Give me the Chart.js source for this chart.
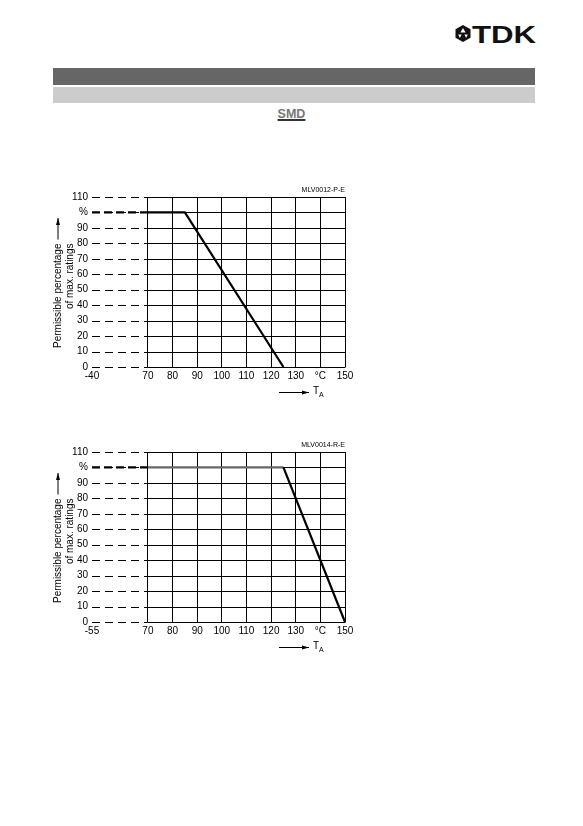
<!DOCTYPE html>
<html>
<head>
<meta charset="utf-8">
<script src="https://cdn.jsdelivr.net/npm/chart.js@4.4.1/dist/chart.umd.min.js"></script>
<style>
  body { margin: 0; background: #fff; font-family: "Liberation Sans", Arial, sans-serif; }
  #page { position: relative; width: 583px; height: 826px; overflow: hidden; }
  .bar1 { position: absolute; left: 53px; top: 68px; width: 482px; height: 17px; background: #666; }
  .bar2 { position: absolute; left: 53px; top: 87px; width: 482px; height: 16px; background: #ccc; }
  .smd { position: absolute; left: 0; width: 583px; top: 107px; text-align: center; font-weight: bold; font-size: 12.5px;
         color: #777; text-decoration: underline; text-decoration-color: #333; text-decoration-thickness: 2px; text-underline-offset: 1px; }
  .logo { position: absolute; left: 455px; top: 25px; height: 18px; }
  .logo svg { position: absolute; left: 0; top: 0; }
  .logo span { position: absolute; left: 17px; top: -4px; font-weight: bold; font-size: 24px; color: #111;
               transform: scaleX(1.3); transform-origin: left top; white-space: nowrap; }
  canvas { position: absolute; left: 40px; }
</style>
</head>
<body>
<div id="page">
  <div class="logo">
    <svg width="16" height="17" viewBox="0 0 16 17">
      <polygon points="8,0 15.5,4.2 15.5,12.8 8,17 0.5,12.8 0.5,4.2" fill="#111"/>
      <polygon points="8,3 10.6,7.6 5.4,7.6" fill="#fff"/>
      <polygon points="3.2,9.4 6.6,9.4 4.9,13" fill="#fff"/>
      <polygon points="9.4,9.4 12.8,9.4 11.1,13" fill="#fff"/>
    </svg>
    <span>TDK</span>
  </div>
  <div class="bar1"></div>
  <div class="bar2"></div>
  <div class="smd">SMD</div>
  <canvas id="chart1" width="320" height="230" style="top:180px"></canvas>
  <canvas id="chart2" width="320" height="230" style="top:435px"></canvas>
</div>
<script>
// derating curves
const tempC1 = [-40, 70, 85, 125];
const pct1 = [100, 100, 100, 0];
const tempC2 = [-55, 70, 125, 150];
const pct2 = [100, 100, 100, 0];

const xTicks1 = [-40, 70, 80, 90, 100, 110, 120, 130, 140, 150];
const xTicks2 = [-55, 70, 80, 90, 100, 110, 120, 130, 140, 150];
const yTicks = [0, 10, 20, 30, 40, 50, 60, 70, 80, 90, 100, 110];

const BREAK_AT = 70;

// linear axis with the span min..BREAK_AT squeezed together
class BreakScale extends Chart.LinearScale {
    squash(v) {
        const a = this.min, b = this.options.breakAt, w = this.options.breakSpan;
        return v >= b ? v : b - (b - v) / (b - a) * w;
    }
    getPixelForValue(v) {
        if (v == null || isNaN(v)) return NaN;
        const lo = this.squash(this.min), hi = this.squash(this.max);
        return this.getPixelForDecimal((this.squash(v) - lo) / (hi - lo));
    }
}
BreakScale.id = 'breaklinear';
BreakScale.defaults = Chart.LinearScale.defaults;
Chart.register(BreakScale);

Chart.defaults.font.family = '"Liberation Sans", Arial, sans-serif';
Chart.defaults.font.size = 10;
Chart.defaults.color = '#000';

// horizontal grid: dashed over the break, solid afterwards
const brokenGrid = {
    id: 'brokenGrid',
    beforeDatasetsDraw(chart) {
        const ctx = chart.ctx, x = chart.scales.x, y = chart.scales.y;
        const x0 = x.getPixelForValue(x.min);
        const x1 = x.getPixelForValue(x.options.breakAt);
        const x2 = x.getPixelForValue(x.max);
        ctx.save();
        ctx.strokeStyle = '#000';
        ctx.lineWidth = 1;
        y.ticks.forEach(t => {
            const py = Math.round(y.getPixelForValue(t.value)) + 0.5;
            ctx.setLineDash([8, 5]);
            ctx.beginPath(); ctx.moveTo(x0, py); ctx.lineTo(x1, py); ctx.stroke();
            ctx.setLineDash([]);
            ctx.beginPath(); ctx.moveTo(x1, py); ctx.lineTo(x2 + 0.5, py); ctx.stroke();
        });
        ctx.restore();
    }
};

function arrow(ctx, x0, y0, x1, y1) {
    const a = Math.atan2(y1 - y0, x1 - x0);
    ctx.beginPath(); ctx.moveTo(x0, y0); ctx.lineTo(x1, y1); ctx.stroke();
    ctx.beginPath();
    ctx.moveTo(x1, y1);
    ctx.lineTo(x1 - 7 * Math.cos(a) + 2 * Math.sin(a), y1 - 7 * Math.sin(a) - 2 * Math.cos(a));
    ctx.lineTo(x1 - 7 * Math.cos(a) - 2 * Math.sin(a), y1 - 7 * Math.sin(a) + 2 * Math.cos(a));
    ctx.closePath(); ctx.fill();
}

const pageText = {
    id: 'pageText',
    afterDraw(chart, args, opts) {
        const ctx = chart.ctx, area = chart.chartArea;
        ctx.save();
        ctx.fillStyle = '#000';
        ctx.strokeStyle = '#000';
        ctx.lineWidth = 1;
        // drawing number
        ctx.font = '7px "Liberation Sans", Arial, sans-serif';
        ctx.textAlign = 'right';
        ctx.textBaseline = 'alphabetic';
        ctx.fillText(opts.code, area.right, area.top - 5);
        // y title, rotated
        ctx.font = '10px "Liberation Sans", Arial, sans-serif';
        ctx.save();
        ctx.translate(18, area.bottom - 19);
        ctx.rotate(-Math.PI / 2);
        ctx.textAlign = 'left';
        ctx.textBaseline = 'middle';
        const t1 = 'Permissible percentage';
        ctx.fillText(t1, 0, 0);
        const w1 = ctx.measureText(t1).width;
        arrow(ctx, w1 + 4, 0, area.bottom - 19 - area.top - 21, 0);
        ctx.textAlign = 'right';
        ctx.fillText('of max. ratings', w1, 12);
        ctx.restore();
        // T_A arrow
        const ay = area.bottom + 25.5;
        arrow(ctx, area.right - 66, ay, area.right - 36, ay);
        ctx.textAlign = 'left';
        ctx.textBaseline = 'middle';
        ctx.fillText('T', area.right - 32, ay - 1);
        ctx.font = '7px "Liberation Sans", Arial, sans-serif';
        ctx.fillText('A', area.right - 26, ay + 3);
        ctx.restore();
    }
};

function makeChart(id, temps, pcts, xTicks, code, flatColor) {
    const canvas = document.getElementById(id);
    const points = temps.map((t, i) => ({ x: t, y: pcts[i] }));
    return new Chart(canvas, {
        type: 'line',
        data: {
            datasets: [{
                data: points,
                borderColor: '#000',
                borderWidth: 2.2,
                pointRadius: 0,
                tension: 0,
                clip: false,
                segment: {
                    borderDash: c => c.p0.parsed.x < BREAK_AT ? [8, 4] : undefined,
                    borderColor: c => (c.p0.parsed.x >= BREAK_AT && c.p0.parsed.y === c.p1.parsed.y) ? flatColor : '#000'
                }
            }]
        },
        options: {
            responsive: false,
            animation: false,
            devicePixelRatio: 1,
            layout: { padding: { top: 17, right: 15, left: 0, bottom: 0 } },
            scales: {
                x: {
                    type: 'breaklinear',
                    min: xTicks[0],
                    max: 150,
                    breakAt: BREAK_AT,
                    breakSpan: 22.7,
                    afterBuildTicks: s => { s.ticks = xTicks.map(v => ({ value: v })); },
                    afterFit: s => { s.height = 43; },
                    ticks: {
                        autoSkip: false,
                        maxRotation: 0,
                        padding: 3,
                        callback: v => v === 140 ? '°C' : v
                    },
                    grid: {
                        drawTicks: false,
                        color: c => c.tick && c.tick.value < BREAK_AT ? 'rgba(0,0,0,0)' : '#000',
                        lineWidth: 1
                    },
                    border: { display: false }
                },
                y: {
                    min: 0,
                    max: 110,
                    afterBuildTicks: s => { s.ticks = yTicks.map(v => ({ value: v })); },
                    afterFit: s => { s.width = 52; },
                    ticks: {
                        padding: 4,
                        callback: v => v === 100 ? '%' : v
                    },
                    grid: { display: false, drawTicks: false },
                    border: { display: false }
                }
            },
            plugins: {
                legend: { display: false },
                tooltip: { enabled: false },
                pageText: { code: code }
            }
        },
        plugins: [brokenGrid, pageText]
    });
}

makeChart('chart1', tempC1, pct1, xTicks1, 'MLV0012-P-E', '#000');
makeChart('chart2', tempC2, pct2, xTicks2, 'MLV0014-R-E', '#666');
</script>
</body>
</html>
